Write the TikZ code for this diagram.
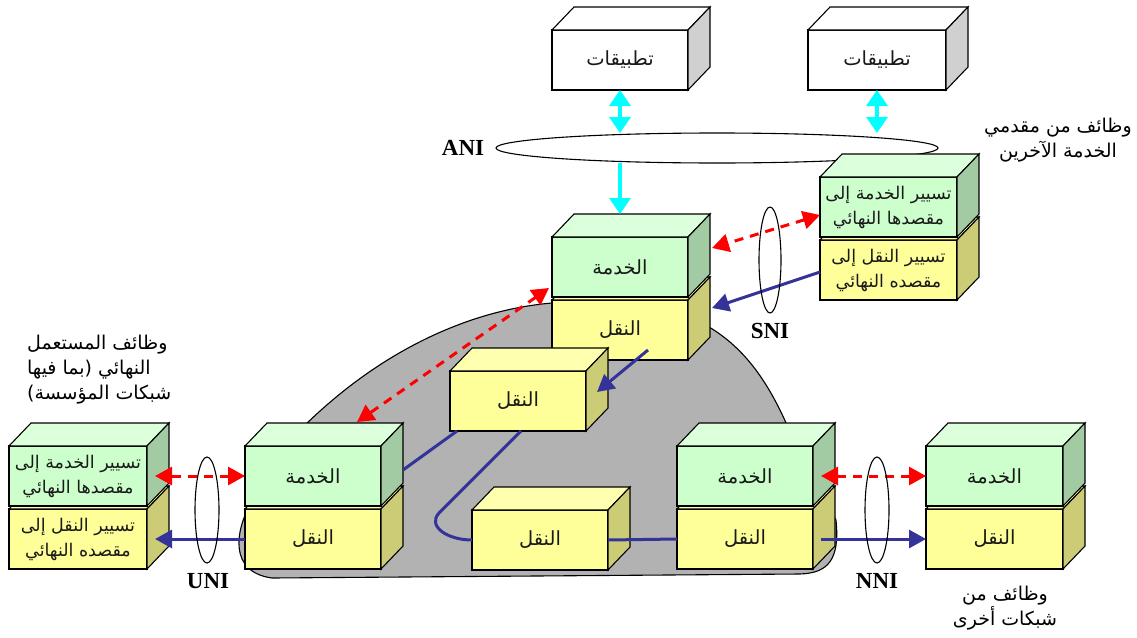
\documentclass[tikz,border=0pt]{standalone}
\usepackage{fontspec}
\usetikzlibrary{arrows.meta,calc,shapes.geometric}
\TeXXeTstate=1
\newfontfamily\arabicfont[Script=Arabic]{DejaVu Sans}
\newfontfamily\latinfont{Liberation Serif}
\newcommand\arline[1]{\beginR #1\endR}

\definecolor{greenfront}{HTML}{CCFFCC}
\definecolor{greentop}{HTML}{DCFFDC}
\definecolor{greenside}{HTML}{A3CBA3}
\definecolor{yellowfront}{HTML}{FFFF99}
\definecolor{yellowtop}{HTML}{FFFFB0}
\definecolor{yellowside}{HTML}{CCCC77}
\definecolor{whitefront}{HTML}{FFFFFF}
\definecolor{whitetop}{HTML}{FFFFFF}
\definecolor{whiteside}{HTML}{D0D0D0}
\definecolor{netgrey}{HTML}{B2B2B2}
\definecolor{flowblue}{HTML}{333399}
\definecolor{apicyan}{HTML}{00FFFF}

% top and right faces of a cuboid whose front face is the node #1
\newcommand\cubefaces[2]{%
  \filldraw[edge, fill=#2top] (#1.north west) -- ($(#1.north west)+(22,-23)$)
    -- ($(#1.north east)+(22,-23)$) -- (#1.north east) -- cycle;
  \filldraw[edge, fill=#2side] (#1.north east) -- ($(#1.north east)+(22,-23)$)
    -- ($(#1.south east)+(22,-23)$) -- (#1.south east) -- cycle;
}
% a cuboid: name, position, width, colour set, extra style, text
\newcommand\cuboid[6]{%
  \node[front, fill=#4front, minimum width=#3pt, #5] (#1) at #2 {#6};
  \cubefaces{#1}{#4}
}

\begin{document}
\begin{tikzpicture}[x=1pt, y=-1pt,
  edge/.style={draw=black, line width=1.1pt, line join=miter},
  front/.style={edge, rectangle, minimum height=60pt, inner sep=0pt, outer sep=0pt,
    align=center, text=black!90, font=\arabicfont\fontsize{19.5}{25}\selectfont},
  twoline/.style={font=\arabicfont\fontsize{17.5}{25}\selectfont},
  blob/.style={draw=black, line width=1.1pt, fill=netgrey},
  ring/.style={draw=black, line width=1.1pt, ellipse, inner sep=0pt, outer sep=0pt},
  iface/.style={font=\latinfont\bfseries\fontsize{23}{23}\selectfont},
  note/.style={font=\arabicfont\fontsize{19}{25}\selectfont, inner sep=0pt},
  cyantip/.tip={Triangle[length=16pt,width=21pt]},
  redtip/.tip={Triangle[length=17pt,width=18pt]},
  bluetip/.tip={Triangle[length=17pt,width=18pt]},
  apiarrow/.style={draw=apicyan, line width=3.5pt, -cyantip},
  apidouble/.style={draw=apicyan, line width=3.5pt, cyantip-cyantip},
  servicelink/.style={draw=red, line width=3pt, dash pattern=on 9pt off 7pt, redtip-redtip},
  transport/.style={draw=flowblue, line width=3pt},
  transportarrow/.style={transport, -bluetip}]

\useasboundingbox (0,0) rectangle (1137,637);

% operator network
\filldraw[blob] (620,300) -- (552,303) .. controls (470,310) and (380,350) .. (300,430)
  -- (250,505) .. controls (236,530) and (228,572) .. (272,578)
  -- (800,574) .. controls (828,573) and (840,560) .. (836,520)
  -- (790,432) .. controls (770,385) and (745,345) .. (700,322) -- cycle;

% applications
\cuboid{appL}{(620,60)}{136}{white}{}{\arline{تطبيقات}}
\cuboid{appR}{(877,60)}{138}{white}{}{\arline{تطبيقات}}

% access interface
\node[ring, fill=white, minimum width=442pt, minimum height=30pt] (ani) at (717,148) {};
\node[iface] (aniL) at (463,148) {ANI};

% central service node
\cuboid{cY}{(620,330)}{136}{yellow}{}{\arline{النقل}}
\cuboid{cG}{(620,267)}{136}{green}{}{\arline{الخدمة}}

% other service providers
\cuboid{rY}{(888.5,270)}{137}{yellow}{twoline}{\arline{تسيير النقل إلى}\\\arline{مقصده النهائي}}
\cuboid{rG}{(888.5,207)}{137}{green}{twoline}{\arline{تسيير الخدمة إلى}\\\arline{مقصدها النهائي}}

% transport-only nodes
\cuboid{mY}{(518,401)}{136}{yellow}{}{\arline{النقل}}
\cuboid{bY}{(540,540)}{136}{yellow}{}{\arline{النقل}}

% edge nodes
\cuboid{uY}{(313,539)}{136}{yellow}{}{\arline{النقل}}
\cuboid{uG}{(313,476)}{136}{green}{}{\arline{الخدمة}}
\cuboid{nY}{(745,539)}{136}{yellow}{}{\arline{النقل}}
\cuboid{nG}{(745,476)}{136}{green}{}{\arline{الخدمة}}

% end user
\cuboid{eY}{(78,539)}{138}{yellow}{twoline}{\arline{تسيير النقل إلى}\\\arline{مقصده النهائي}}
\cuboid{eG}{(78,476)}{138}{green}{twoline}{\arline{تسيير الخدمة إلى}\\\arline{مقصدها النهائي}}

% other networks
\cuboid{oY}{(994.5,539)}{137}{yellow}{}{\arline{النقل}}
\cuboid{oG}{(994.5,476)}{137}{green}{}{\arline{الخدمة}}

% application interface arrows
\draw[apidouble] (appL.south) -- (appL.south |- ani.north);
\draw[apidouble] (appR.south) -- (appR.south |- ani.north);
\draw[apiarrow] (appL.south |- ani.south) -- ([yshift=23pt]cG.north);

% service-level links
\draw[servicelink] ([yshift=-8pt]rG.west) -- ([xshift=24pt,yshift=19pt]cG.east);
\draw[servicelink] ([xshift=-3pt,yshift=9pt]cG.south west) -- ([xshift=44pt,yshift=24pt]uG.north);
\draw[servicelink] (uG.west) -- ([xshift=8pt]eG.east);
\draw[servicelink] ([xshift=8pt]nG.east) -- (oG.west);

% transport paths
\draw[transportarrow] ([yshift=-2pt]rY.west) -- ([xshift=24pt,yshift=22pt]cY.east);
\draw[transportarrow] ([xshift=28pt,yshift=-20pt]cY.center) -- ([xshift=11pt,yshift=9pt]mY.east);
\draw[transport] ([xshift=-61pt]mY.south) -- ([xshift=22pt,yshift=6pt]uG.east);
\draw[transport] ([xshift=3pt]mY.south) -- ++(-82,82) .. controls +(-12,13) and +(-25,0) .. (bY.west);
\draw[transport] (bY.east) -- (nY.west);
\draw[transportarrow] (uY.west) -- ([xshift=8pt]eY.east);
\draw[transportarrow] ([xshift=8pt]nY.east) -- (oY.west);

% network interfaces
\node[ring, minimum width=22pt, minimum height=106pt] (sni) at (770,260) {};
\node[iface] (sniL) at (770,331) {SNI};
\node[ring, minimum width=24pt, minimum height=106pt] (uni) at (207,510) {};
\node[iface] (uniL) at (208,581) {UNI};
\node[ring, minimum width=24pt, minimum height=106pt] (nni) at (877,510) {};
\node[iface] (nniL) at (877,581) {NNI};

% captions
\node[note, align=center] (provL) at (1058,140) {\arline{وظائف من مقدمي}\\\arline{الخدمة الآخرين}};
\node[note, align=left, anchor=west] (userL) at (27,370) {\arline{وظائف المستعمل}\\\arline{النهائي (بما فيها}\\\arline{شبكات المؤسسة)}};
\node[note, align=center] (otherL) at (1005,608) {\arline{وظائف من}\\\arline{شبكات أخرى}};

\end{tikzpicture}
\end{document}
